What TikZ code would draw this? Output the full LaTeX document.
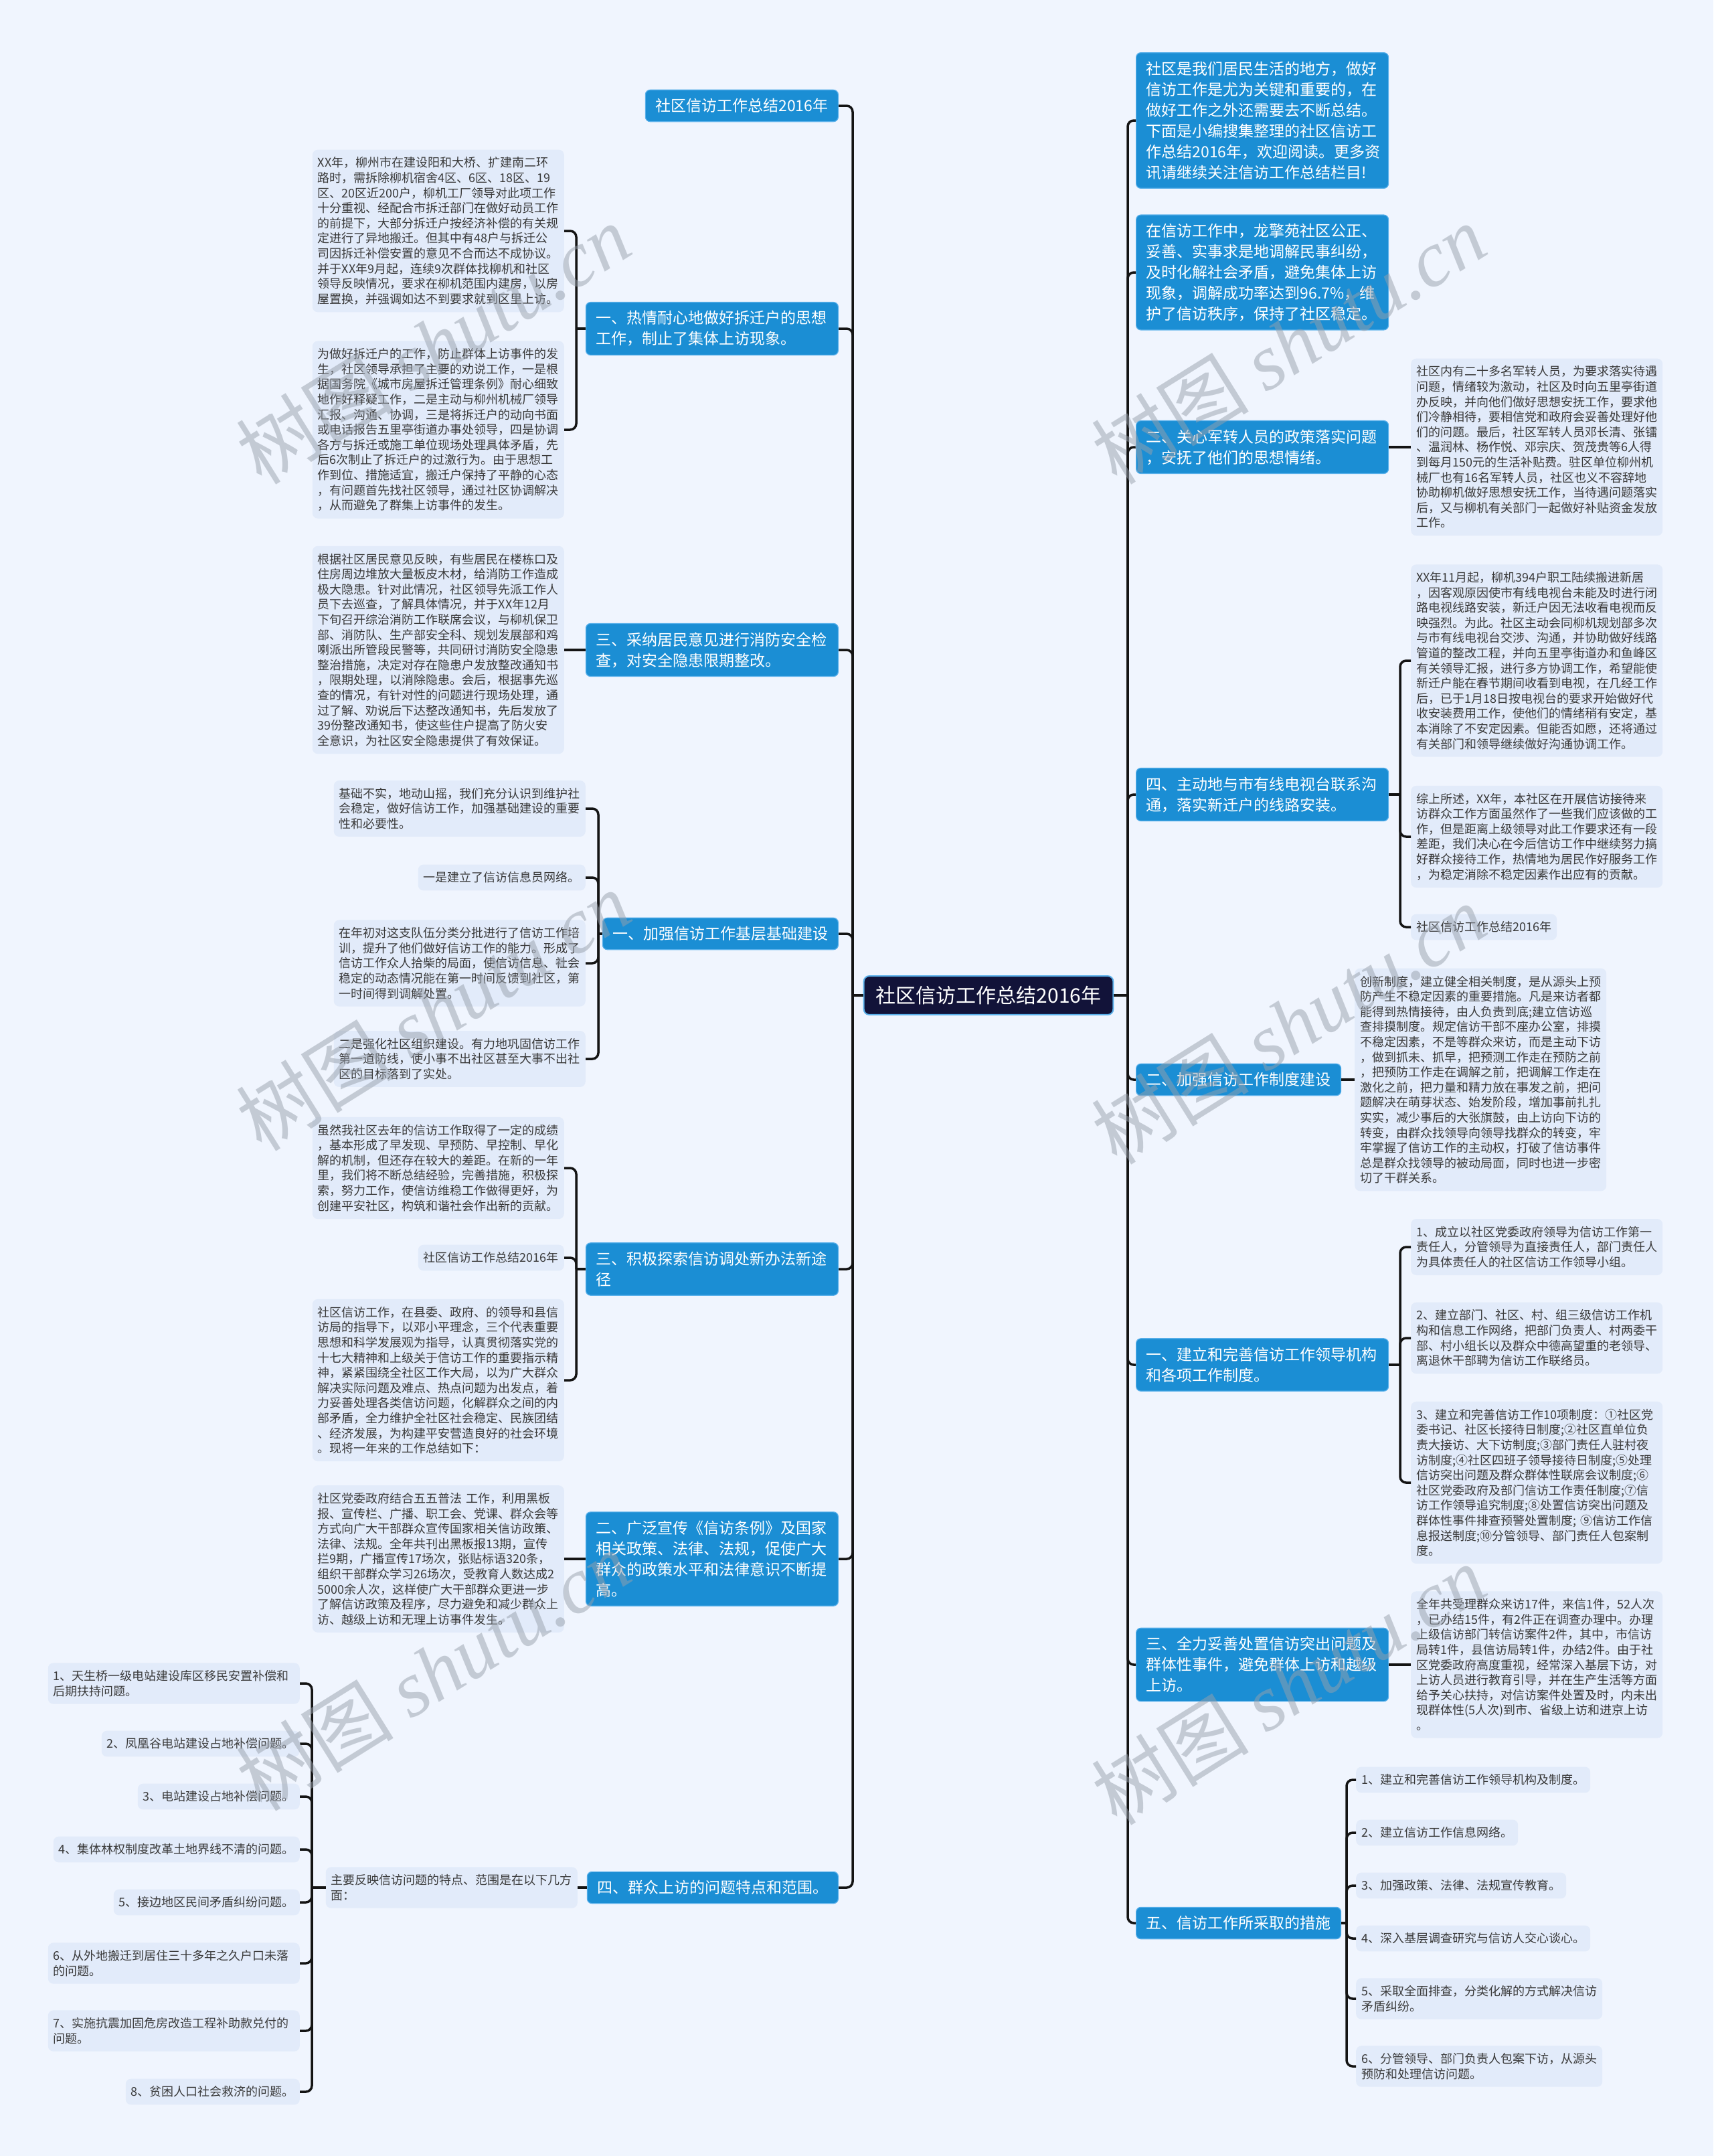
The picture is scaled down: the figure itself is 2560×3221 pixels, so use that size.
\documentclass[tikz,border=0pt]{standalone}
\usepackage{fontspec}
\setmainfont{Noto Sans CJK SC}
\newfontfamily\wmlatin{Liberation Serif}
\usepackage{tikz}
\usetikzlibrary{positioning}

\definecolor{bgcol}{HTML}{F0F5FE}
\definecolor{leafcol}{HTML}{E2EBFA}
\definecolor{topiccol}{HTML}{1B8ED4}
\definecolor{topicline}{HTML}{5AB0EA}
\definecolor{rootcol}{HTML}{121339}
\definecolor{linkcol}{HTML}{141414}
\definecolor{textcol}{HTML}{3A3A3A}
\definecolor{wmcol}{HTML}{98A0AC}

\newcommand\leaffont{\fontsize{18}{22.6}\selectfont}
\newcommand\topicfont{\fontsize{23}{31}\selectfont}
\newcommand\rootfont{\fontsize{30}{36}\selectfont}

\begin{document}
\begin{tikzpicture}[x=1pt, y=-1pt,
    root/.style={fill=rootcol, draw=topicline, line width=2pt, rounded corners=8pt,
        text=white, font=\rootfont, inner xsep=18pt, inner ysep=15pt},
    topic/.style={fill=topiccol, draw=topicline, line width=1.2pt, rounded corners=7pt,
        text=white, font=\topicfont, align=left, inner xsep=15pt, inner ysep=13pt},
    topicwide/.style={text width=347pt},
    leaf/.style={fill=leafcol, rounded corners=8pt, text=textcol, font=\leaffont,
        align=left, inner xsep=8pt, inner ysep=11pt},
    leafwide/.style={text width=360pt},
    link/.style={draw=linkcol, line width=3.5pt, rounded corners=9pt},
    wmark/.style={rotate=32, text=wmcol, opacity=.5, font=\fontsize{118}{118}\selectfont}]

    % 背景
    \fill[bgcol] (0,0) rectangle (2560,3221);
    \useasboundingbox (0,0) rectangle (2560,3221);

    % 中心主题
    \node[root] (root) at (1477,1487) {社区信访工作总结2016年};

    % 左侧分支
    \node[topic, anchor=east] (title) at (1253,158) {社区信访工作总结2016年};
    \node[topic, topicwide, anchor=east] (chaiqian) at (1253,491) {一、热情耐心地做好拆迁户的思想\\工作，制止了集体上访现象。};
    \node[topic, topicwide, anchor=east] (xiaofang) at (1253,971) {三、采纳居民意见进行消防安全检\\查，对安全隐患限期整改。};
    \node[topic, anchor=east] (jichu) at (1253,1395) {一、加强信访工作基层基础建设};
    \node[topic, topicwide, anchor=east] (tansuo) at (1253,1896) {三、积极探索信访调处新办法新途\\径};
    \node[topic, topicwide, anchor=east] (xuanchuan) at (1253,2329) {二、广泛宣传《信访条例》及国家\\相关政策、法律、法规，促使广大\\群众的政策水平和法律意识不断提\\高。};
    \node[topic, anchor=east] (shangfang) at (1253,2820) {四、群众上访的问题特点和范围。};

    \node[leaf, leafwide, anchor=east] (chaiqianA) at (843,345) {XX年，柳州市在建设阳和大桥、扩建南二环\\路时，需拆除柳机宿舍4区、6区、18区、19\\区、20区近200户，柳机工厂领导对此项工作\\十分重视、经配合市拆迁部门在做好动员工作\\的前提下，大部分拆迁户按经济补偿的有关规\\定进行了异地搬迁。但其中有48户与拆迁公\\司因拆迁补偿安置的意见不合而达不成协议。\\并于XX年9月起，连续9次群体找柳机和社区\\领导反映情况，要求在柳机范围内建房，以房\\屋置换，并强调如达不到要求就到区里上访。};
    \node[leaf, leafwide, anchor=east] (chaiqianB) at (843,642) {为做好拆迁户的工作，防止群体上访事件的发\\生，社区领导承担了主要的劝说工作，一是根\\据国务院《城市房屋拆迁管理条例》耐心细致\\地作好释疑工作，二是主动与柳州机械厂领导\\汇报、沟通、协调，三是将拆迁户的动向书面\\或电话报告五里亭街道办事处领导，四是协调\\各方与拆迁或施工单位现场处理具体矛盾，先\\后6次制止了拆迁户的过激行为。由于思想工\\作到位、措施适宜，搬迁户保持了平静的心态\\，有问题首先找社区领导，通过社区协调解决\\，从而避免了群集上访事件的发生。};
    \node[leaf, leafwide, anchor=east] (xiaofangA) at (843,971) {根据社区居民意见反映，有些居民在楼栋口及\\住房周边堆放大量板皮木材，给消防工作造成\\极大隐患。针对此情况，社区领导先派工作人\\员下去巡查，了解具体情况，并于XX年12月\\下旬召开综治消防工作联席会议，与柳机保卫\\部、消防队、生产部安全科、规划发展部和鸡\\喇派出所管段民警等，共同研讨消防安全隐患\\整治措施，决定对存在隐患户发放整改通知书\\，限期处理，以消除隐患。会后，根据事先巡\\查的情况，有针对性的问题进行现场处理，通\\过了解、劝说后下达整改通知书，先后发放了\\39份整改通知书，使这些住户提高了防火安\\全意识，为社区安全隐患提供了有效保证。};
    \node[leaf, leafwide, anchor=east] (jichuA) at (875,1208) {基础不实，地动山摇，我们充分认识到维护社\\会稳定，做好信访工作，加强基础建设的重要\\性和必要性。};
    \node[leaf, anchor=east] (jichuB) at (875,1311) {一是建立了信访信息员网络。};
    \node[leaf, leafwide, anchor=east] (jichuC) at (875,1439) {在年初对这支队伍分类分批进行了信访工作培\\训，提升了他们做好信访工作的能力。形成了\\信访工作众人拾柴的局面，使信访信息、社会\\稳定的动态情况能在第一时间反馈到社区，第\\一时间得到调解处置。};
    \node[leaf, leafwide, anchor=east] (jichuD) at (875,1582) {二是强化社区组织建设。有力地巩固信访工作\\第一道防线，使小事不出社区甚至大事不出社\\区的目标落到了实处。};
    \node[leaf, leafwide, anchor=east] (tansuoA) at (843,1745) {虽然我社区去年的信访工作取得了一定的成绩\\，基本形成了早发现、早预防、早控制、早化\\解的机制，但还存在较大的差距。在新的一年\\里，我们将不断总结经验，完善措施，积极探\\索，努力工作，使信访维稳工作做得更好，为\\创建平安社区，构筑和谐社会作出新的贡献。};
    \node[leaf, anchor=east] (tansuoB) at (843,1879) {社区信访工作总结2016年};
    \node[leaf, leafwide, anchor=east] (tansuoC) at (843,2062) {社区信访工作，在县委、政府、的领导和县信\\访局的指导下，以邓小平理念，三个代表重要\\思想和科学发展观为指导，认真贯彻落实党的\\十七大精神和上级关于信访工作的重要指示精\\神，紧紧围绕全社区工作大局，以为广大群众\\解决实际问题及难点、热点问题为出发点，着\\力妥善处理各类信访问题，化解群众之间的内\\部矛盾，全力维护全社区社会稳定、民族团结\\、经济发展，为构建平安营造良好的社会环境\\。现将一年来的工作总结如下：};
    \node[leaf, leafwide, anchor=east] (xuanchuanA) at (843,2329) {社区党委政府结合五五普法~工作，利用黑板\\报、宣传栏、广播、职工会、党课、群众会等\\方式向广大干部群众宣传国家相关信访政策、\\法律、法规。全年共刊出黑板报13期，宣传\\拦9期，广播宣传17场次，张贴标语320条，\\组织干部群众学习26场次，受教育人数达成2\\5000余人次，这样使广大干部群众更进一步\\了解信访政策及程序，尽力避免和减少群众上\\访、越级上访和无理上访事件发生。};
    \node[leaf, anchor=east] (shangfangA) at (863,2820) {主要反映信访问题的特点、范围是在以下几方\\面：};
    \node[leaf, text width=360pt, anchor=east] (item1) at (448,2515) {1、天生桥一级电站建设库区移民安置补偿和\\后期扶持问题。};
    \node[leaf, anchor=east] (item2) at (448,2605) {2、凤凰谷电站建设占地补偿问题。};
    \node[leaf, anchor=east] (item3) at (448,2684) {3、电站建设占地补偿问题。};
    \node[leaf, anchor=east] (item4) at (448,2763) {4、集体林权制度改革土地界线不清的问题。};
    \node[leaf, anchor=east] (item5) at (448,2842) {5、接边地区民间矛盾纠纷问题。};
    \node[leaf, text width=360pt, anchor=east] (item6) at (448,2933) {6、从外地搬迁到居住三十多年之久户口未落\\的问题。};
    \node[leaf, text width=360pt, anchor=east] (item7) at (448,3034) {7、实施抗震加固危房改造工程补助款兑付的\\问题。};
    \node[leaf, anchor=east] (item8) at (448,3125) {8、贫困人口社会救济的问题。};

    % 右侧分支
    \node[topic, topicwide, anchor=west] (intro) at (1697,180) {社区是我们居民生活的地方，做好\\信访工作是尤为关键和重要的，在\\做好工作之外还需要去不断总结。\\下面是小编搜集整理的社区信访工\\作总结2016年，欢迎阅读。更多资\\讯请继续关注信访工作总结栏目!};
    \node[topic, topicwide, anchor=west] (tiaojie) at (1697,407) {在信访工作中，龙擎苑社区公正、\\妥善、实事求是地调解民事纠纷，\\及时化解社会矛盾，避免集体上访\\现象，调解成功率达到96.7\%，维\\护了信访秩序，保持了社区稳定。};
    \node[topic, topicwide, anchor=west] (junzhuan) at (1697,668) {二、关心军转人员的政策落实问题\\，安抚了他们的思想情绪。};
    \node[topic, topicwide, anchor=west] (dianshi) at (1697,1187) {四、主动地与市有线电视台联系沟\\通，落实新迁户的线路安装。};
    \node[topic, anchor=west] (zhidu) at (1697,1613) {二、加强信访工作制度建设};
    \node[topic, topicwide, anchor=west] (jigou) at (1697,2039) {一、建立和完善信访工作领导机构\\和各项工作制度。};
    \node[topic, topicwide, anchor=west] (chuzhi) at (1697,2487) {三、全力妥善处置信访突出问题及\\群体性事件，避免群体上访和越级\\上访。};
    \node[topic, anchor=west] (cuoshi) at (1697,2873) {五、信访工作所采取的措施};

    \node[leaf, leafwide, anchor=west] (junzhuanA) at (2108,668) {社区内有二十多名军转人员，为要求落实待遇\\问题，情绪较为激动，社区及时向五里亭街道\\办反映，并向他们做好思想安抚工作，要求他\\们冷静相待，要相信党和政府会妥善处理好他\\们的问题。最后，社区军转人员邓长清、张镭\\、温润林、杨作悦、邓宗庆、贺茂贵等6人得\\到每月150元的生活补贴费。驻区单位柳州机\\械厂也有16名军转人员，社区也义不容辞地\\协助柳机做好思想安抚工作，当待遇问题落实\\后，又与柳机有关部门一起做好补贴资金发放\\工作。};
    \node[leaf, leafwide, anchor=west] (dianshiA) at (2108,987) {XX年11月起，柳机394户职工陆续搬进新居\\，因客观原因使市有线电视台未能及时进行闭\\路电视线路安装，新迁户因无法收看电视而反\\映强烈。为此。社区主动会同柳机规划部多次\\与市有线电视台交涉、沟通，并协助做好线路\\管道的整改工程，并向五里亭街道办和鱼峰区\\有关领导汇报，进行多方协调工作，希望能使\\新迁户能在春节期间收看到电视，在几经工作\\后，已于1月18日按电视台的要求开始做好代\\收安装费用工作，使他们的情绪稍有安定，基\\本消除了不安定因素。但能否如愿，还将通过\\有关部门和领导继续做好沟通协调工作。};
    \node[leaf, leafwide, anchor=west] (dianshiB) at (2108,1250) {综上所述，XX年，本社区在开展信访接待来\\访群众工作方面虽然作了一些我们应该做的工\\作，但是距离上级领导对此工作要求还有一段\\差距，我们决心在今后信访工作中继续努力搞\\好群众接待工作，热情地为居民作好服务工作\\，为稳定消除不稳定因素作出应有的贡献。};
    \node[leaf, anchor=west] (dianshiC) at (2108,1385) {社区信访工作总结2016年};
    \node[leaf, leafwide, anchor=west] (zhiduA) at (2024,1613) {创新制度，建立健全相关制度，是从源头上预\\防产生不稳定因素的重要措施。凡是来访者都\\能得到热情接待，由人负责到底;建立信访巡\\查排摸制度。规定信访干部不座办公室，排摸\\不稳定因素，不是等群众来访，而是主动下访\\，做到抓未、抓早，把预测工作走在预防之前\\，把预防工作走在调解之前，把调解工作走在\\激化之前，把力量和精力放在事发之前，把问\\题解决在萌芽状态、始发阶段，增加事前扎扎\\实实，减少事后的大张旗鼓，由上访向下访的\\转变，由群众找领导向领导找群众的转变，牢\\牢掌握了信访工作的主动权，打破了信访事件\\总是群众找领导的被动局面，同时也进一步密\\切了干群关系。};
    \node[leaf, leafwide, anchor=west] (jigouA) at (2108,1863) {1、成立以社区党委政府领导为信访工作第一\\责任人，分管领导为直接责任人，部门责任人\\为具体责任人的社区信访工作领导小组。};
    \node[leaf, leafwide, anchor=west] (jigouB) at (2108,1999) {2、建立部门、社区、村、组三级信访工作机\\构和信息工作网络，把部门负责人、村两委干\\部、村小组长以及群众中德高望重的老领导、\\离退休干部聘为信访工作联络员。};
    \node[leaf, leafwide, anchor=west] (jigouC) at (2108,2215) {3、建立和完善信访工作10项制度：①社区党\\委书记、社区长接待日制度;②社区直单位负\\责大接访、大下访制度;③部门责任人驻村夜\\访制度;④社区四班子领导接待日制度;⑤处理\\信访突出问题及群众群体性联席会议制度;⑥\\社区党委政府及部门信访工作责任制度;⑦信\\访工作领导追究制度;⑧处置信访突出问题及\\群体性事件排查预警处置制度;~⑨信访工作信\\息报送制度;⑩分管领导、部门责任人包案制\\度。};
    \node[leaf, leafwide, anchor=west] (chuzhiA) at (2108,2487) {全年共受理群众来访17件，来信1件，52人次\\，已办结15件，有2件正在调查办理中。办理\\上级信访部门转信访案件2件，其中，市信访\\局转1件，县信访局转1件，办结2件。由于社\\区党委政府高度重视，经常深入基层下访，对\\上访人员进行教育引导，并在生产生活等方面\\给予关心扶持，对信访案件处置及时，内未出\\现群体性(5人次)到市、省级上访和进京上访\\。};
    \node[leaf, anchor=west] (cuoshiA) at (2026,2659) {1、建立和完善信访工作领导机构及制度。};
    \node[leaf, anchor=west] (cuoshiB) at (2026,2738) {2、建立信访工作信息网络。};
    \node[leaf, anchor=west] (cuoshiC) at (2026,2817) {3、加强政策、法律、法规宣传教育。};
    \node[leaf, anchor=west] (cuoshiD) at (2026,2896) {4、深入基层调查研究与信访人交心谈心。};
    \node[leaf, anchor=west] (cuoshiE) at (2026,2986) {5、采取全面排查，分类化解的方式解决信访\\矛盾纠纷。};
    \node[leaf, anchor=west] (cuoshiF) at (2026,3087) {6、分管领导、部门负责人包案下访，从源头\\预防和处理信访问题。};

    % 主干连线
    \coordinate (lt) at (1274,1487);
    \coordinate (rt) at (1685,1487);
    \draw[link] (root.west) -- (lt);
    \draw[link] (root.east) -- (rt);
    \foreach \n in {title,chaiqian,xiaofang,jichu,tansuo,xuanchuan,shangfang}
        \draw[link] (lt) |- (\n.east);
    \foreach \n in {intro,tiaojie,junzhuan,dianshi,zhidu,jigou,chuzhi,cuoshi}
        \draw[link] (rt) |- (\n.west);

    % 二级连线
    \coordinate (cqb) at (861,491);
    \draw[link] (chaiqian.west) -- (cqb);
    \foreach \n in {chaiqianA,chaiqianB}
        \draw[link] (cqb) |- (\n.east);
    \draw[link] (xiaofang.west) -- (xiaofangA.east);
    \coordinate (jcb) at (894,1395);
    \draw[link] (jichu.west) -- (jcb);
    \foreach \n in {jichuA,jichuB,jichuC,jichuD}
        \draw[link] (jcb) |- (\n.east);
    \coordinate (tsb) at (861,1896);
    \draw[link] (tansuo.west) -- (tsb);
    \foreach \n in {tansuoA,tansuoB,tansuoC}
        \draw[link] (tsb) |- (\n.east);
    \draw[link] (xuanchuan.west) -- (xuanchuanA.east);
    \draw[link] (shangfang.west) -- (shangfangA.east);
    \coordinate (sfb) at (466,2820);
    \draw[link] (shangfangA.west) -- (sfb);
    \foreach \i in {1,...,8}
        \draw[link] (sfb) |- (item\i.east);

    \draw[link] (junzhuan.east) -- (junzhuanA.west);
    \coordinate (dsb) at (2092,1187);
    \draw[link] (dianshi.east) -- (dsb);
    \foreach \n in {dianshiA,dianshiB,dianshiC}
        \draw[link] (dsb) |- (\n.west);
    \draw[link] (zhidu.east) -- (zhiduA.west);
    \coordinate (jgb) at (2092,2039);
    \draw[link] (jigou.east) -- (jgb);
    \foreach \n in {jigouA,jigouB,jigouC}
        \draw[link] (jgb) |- (\n.west);
    \draw[link] (chuzhi.east) -- (chuzhiA.west);
    \coordinate (csb) at (2012,2873);
    \draw[link] (cuoshi.east) -- (csb);
    \foreach \n in {cuoshiA,cuoshiB,cuoshiC,cuoshiD,cuoshiE,cuoshiF}
        \draw[link] (csb) |- (\n.west);

    % 水印
    \foreach \wx/\wy in {647/514, 1925/514, 647/1510, 1925/1530, 647/2496, 1925/2517}
        \node[wmark] at (\wx,\wy) {树图 {\wmlatin\itshape shutu.cn}};
\end{tikzpicture}
\end{document}
